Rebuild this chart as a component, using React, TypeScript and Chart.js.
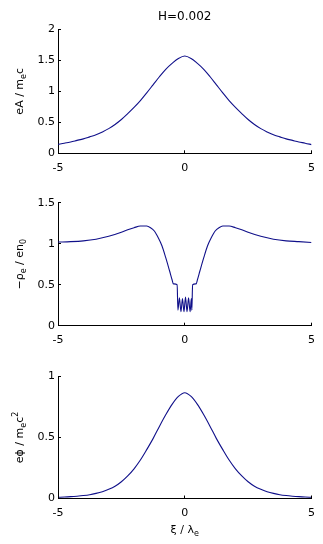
import React, { useEffect, useRef } from "react";
import { Chart, registerables } from "chart.js";

Chart.register(...registerables);

// ---------- data ----------
const TITLE = "H=0.002";

const xiGrid = [
  -5, -4.75, -4.5, -4.25, -4, -3.75, -3.5, -3.25, -3, -2.75, -2.5, -2.25, -2, -1.75, -1.5, -1.25, -1, -0.75, -0.5, -0.25,
  0, 0.25, 0.5, 0.75, 1, 1.25, 1.5, 1.75, 2, 2.25, 2.5, 2.75, 3, 3.25, 3.5, 3.75, 4, 4.25, 4.5, 4.75, 5,
];

const eAValues = [
  0.145, 0.163, 0.183, 0.208, 0.233, 0.265, 0.298, 0.345, 0.398, 0.465, 0.545, 0.64, 0.74, 0.85, 0.975, 1.105, 1.235,
  1.355, 1.45, 1.53, 1.57, 1.53, 1.45, 1.355, 1.235, 1.105, 0.975, 0.85, 0.74, 0.64, 0.545, 0.465, 0.398, 0.345, 0.298,
  0.265, 0.233, 0.208, 0.183, 0.163, 0.14,
];

const xiRho = [
  -5, -4.5, -4, -3.5, -3, -2.5, -2.25, -2, -1.75, -1.5, -1.35, -1.2, -1.05, -0.9, -0.75, -0.6, -0.5, -0.45, -0.3, -0.27,
  -0.21, -0.15, -0.09, -0.03, 0.03, 0.09, 0.15, 0.21, 0.26, 0.28, 0.31, 0.45, 0.5, 0.6, 0.75, 0.9, 1.05, 1.2,
  1.35, 1.5, 1.75, 2, 2.25, 2.5, 3, 3.5, 4, 4.5, 5,
];

const rhoValues = [
  1.02, 1.025, 1.035, 1.055, 1.09, 1.14, 1.17, 1.195, 1.215, 1.215, 1.195, 1.155, 1.075, 0.975, 0.83, 0.67, 0.56, 0.51,
  0.5, 0.19, 0.34, 0.17, 0.33, 0.17, 0.35, 0.17, 0.34, 0.17, 0.33, 0.19, 0.5, 0.51, 0.56, 0.67, 0.83, 0.975,
  1.075, 1.155, 1.195, 1.215, 1.215, 1.195, 1.17, 1.14, 1.09, 1.055, 1.035, 1.025, 1.015,
];

const phiValues = [
  0.01, 0.012, 0.015, 0.019, 0.024, 0.031, 0.042, 0.056, 0.075, 0.1, 0.137, 0.185, 0.243, 0.315, 0.4, 0.49, 0.59, 0.685,
  0.77, 0.835, 0.865, 0.835, 0.77, 0.685, 0.59, 0.49, 0.4, 0.315, 0.243, 0.185, 0.137, 0.1, 0.075, 0.056, 0.042, 0.031,
  0.024, 0.019, 0.015, 0.012, 0.01,
];

const X_MIN = -5;
const X_MAX = 5;
const X_STEP = 5;

type Seg = { t: string; k?: "sub" | "sup" };

const yLabelA: Seg[] = [{ t: "eA / m" }, { t: "e", k: "sub" }, { t: "c" }];
const yLabelRho: Seg[] = [{ t: "\u2212\u03c1" }, { t: "e", k: "sub" }, { t: " / en" }, { t: "0", k: "sub" }];
const yLabelPhi: Seg[] = [{ t: "e\u03d5 / m" }, { t: "e", k: "sub" }, { t: "c" }, { t: "2", k: "sup" }];
const xLabel: Seg[] = [{ t: "\u03be / \u03bb" }, { t: "e", k: "sub" }];

// ---------- style ----------
const FONT = "'DejaVu Sans', sans-serif";
const LINE_COLOR = "#10108a";
const W = 323;

function drawRich(ctx: CanvasRenderingContext2D, segs: Seg[], x: number, y: number, rotate: boolean) {
  const big = `11px ${FONT}`;
  const small = `8px ${FONT}`;
  let total = 0;
  const widths = segs.map((s) => {
    ctx.font = s.k ? small : big;
    const w = ctx.measureText(s.t).width;
    total += w;
    return w;
  });
  ctx.save();
  ctx.translate(x, y);
  if (rotate) ctx.rotate(-Math.PI / 2);
  ctx.textAlign = "left";
  ctx.textBaseline = "alphabetic";
  ctx.fillStyle = "#000";
  let cur = -total / 2;
  segs.forEach((s, i) => {
    ctx.font = s.k ? small : big;
    const dy = s.k === "sub" ? 3 : s.k === "sup" ? -5 : 0;
    ctx.fillText(s.t, cur, dy);
    cur += widths[i];
  });
  ctx.restore();
}

type PanelProps = {
  top: number;
  height: number;
  xs: number[];
  ys: number[];
  yMax: number;
  yStep: number;
  areaTop: number;
  areaBottom: number;
  yLabel: Seg[];
  title?: string;
  xTitle?: Seg[];
};

const fmt = (v: any) => String(Math.round(Number(v) * 100) / 100);

function Panel(p: PanelProps) {
  const ref = useRef<HTMLCanvasElement | null>(null);
  useEffect(() => {
    const canvas = ref.current;
    if (!canvas) return;
    const decor = {
      id: "decor",
      afterDraw(chart: any) {
        const { ctx, chartArea: a, scales } = chart;
        const sx = scales.x;
        const sy = scales.y;
        ctx.save();
        ctx.strokeStyle = "#000";
        ctx.lineWidth = 1;
        ctx.beginPath();
        sx.ticks.forEach((t: any) => {
          const px = Math.floor(sx.getPixelForValue(t.value)) + 0.5;
          ctx.moveTo(px, a.bottom);
          ctx.lineTo(px, a.bottom - 3);
        });
        sy.ticks.forEach((t: any) => {
          const py = Math.floor(sy.getPixelForValue(t.value)) + 0.5;
          ctx.moveTo(a.left, py);
          ctx.lineTo(a.left + 3, py);
        });
        ctx.stroke();
        if (p.title) {
          ctx.fillStyle = "#000";
          ctx.font = `12px ${FONT}`;
          ctx.textAlign = "center";
          ctx.textBaseline = "alphabetic";
          ctx.fillText(p.title, (a.left + a.right) / 2, 19.5);
        }
        drawRich(ctx, p.yLabel, 23, (a.top + a.bottom) / 2, true);
        if (p.xTitle) drawRich(ctx, p.xTitle, (a.left + a.right) / 2, p.height - 11, false);
        ctx.restore();
      },
    };
    const tickFont = { family: FONT, size: 11 };
    const chart = new Chart(canvas, {
      type: "line",
      data: {
        datasets: [
          {
            data: p.xs.map((x, i) => ({ x, y: p.ys[i] })),
            borderColor: LINE_COLOR,
            borderWidth: 1.1,
            pointRadius: 0,
            fill: false,
            cubicInterpolationMode: "monotone",
          },
        ],
      },
      options: {
        animation: false,
        responsive: false,
        devicePixelRatio: 1,
        layout: { padding: { left: 0, right: 10, top: p.areaTop, bottom: 0 } },
        plugins: { legend: { display: false }, tooltip: { enabled: false }, title: { display: false } },
        scales: {
          x: {
            type: "linear",
            min: X_MIN,
            max: X_MAX,
            ticks: { stepSize: X_STEP, color: "#000", font: tickFont, padding: 8, maxRotation: 0, callback: fmt },
            grid: { display: false, drawTicks: false },
            border: { display: true, color: "#000", width: 1 },
            afterFit: (s: any) => {
              s.height = p.height - p.areaBottom;
            },
          },
          y: {
            type: "linear",
            min: 0,
            max: p.yMax,
            ticks: { stepSize: p.yStep, color: "#000", font: tickFont, padding: 3, callback: fmt },
            grid: { display: false, drawTicks: false },
            border: { display: true, color: "#000", width: 1 },
            afterFit: (s: any) => {
              s.width = 58;
            },
          },
        },
      },
      plugins: [decor],
    } as any);
    return () => chart.destroy();
  }, []);
  return (
    <canvas
      ref={ref}
      width={W}
      height={p.height}
      style={{ position: "absolute", left: 0, top: p.top, width: W, height: p.height }}
    />
  );
}

export default function App() {
  useEffect(() => {
    document.body.style.margin = "0";
    document.body.style.background = "#fff";
  }, []);
  return (
    <div style={{ position: "relative", width: W, height: 544, background: "#fff" }}>
      <Panel top={0} height={180} xs={xiGrid} ys={eAValues} yMax={2} yStep={0.5} areaTop={29.3} areaBottom={153.3} yLabel={yLabelA} title={TITLE} />
      <Panel top={180} height={180} xs={xiRho} ys={rhoValues} yMax={1.5} yStep={0.5} areaTop={22.7} areaBottom={145.7} yLabel={yLabelRho} />
      <Panel top={360} height={184} xs={xiGrid} ys={phiValues} yMax={1} yStep={0.5} areaTop={16.3} areaBottom={138.5} yLabel={yLabelPhi} xTitle={xLabel} />
    </div>
  );
}
